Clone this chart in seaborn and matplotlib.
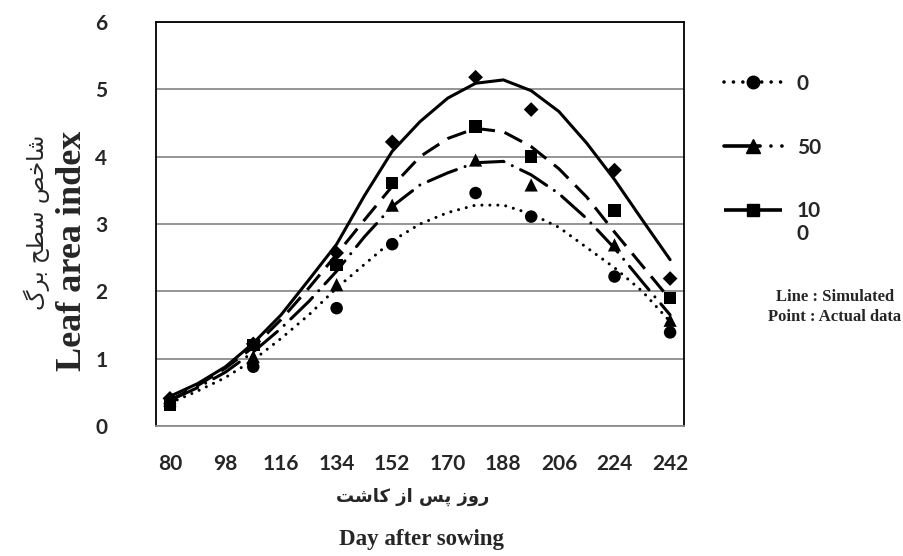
import matplotlib
matplotlib.use('Agg')

import numpy as np
import pandas as pd
import matplotlib.pyplot as plt
import seaborn as sns
from matplotlib.lines import Line2D

# simulated LAI (lines), one value per category day
days = [80, 89, 98, 107, 116, 125, 134, 143, 152, 161, 170, 179, 188, 197, 206, 215, 224, 233, 242]
sim_0 = [0.34, 0.52, 0.72, 0.98, 1.30, 1.65, 2.05, 2.40, 2.75, 3.00, 3.17, 3.28, 3.28, 3.15, 2.95, 2.65, 2.35, 2.00, 1.55]
sim_50 = [0.38, 0.57, 0.80, 1.10, 1.45, 1.85, 2.30, 2.81, 3.26, 3.58, 3.76, 3.91, 3.93, 3.73, 3.45, 3.08, 2.64, 2.14, 1.65]
sim_100 = [0.38, 0.60, 0.86, 1.17, 1.58, 2.05, 2.55, 3.06, 3.56, 4.00, 4.27, 4.42, 4.37, 4.15, 3.82, 3.40, 2.88, 2.38, 1.88]
sim_150 = [0.44, 0.63, 0.88, 1.23, 1.65, 2.17, 2.70, 3.42, 4.08, 4.52, 4.87, 5.09, 5.14, 4.98, 4.67, 4.20, 3.66, 3.06, 2.47]

# measured LAI (points)
obs_days = [80, 107, 134, 152, 179, 197, 224, 242]
obs_0 = [0.33, 0.88, 1.75, 2.70, 3.46, 3.11, 2.22, 1.39]
obs_50 = [0.38, 1.03, 2.10, 3.28, 3.95, 3.58, 2.69, 1.57]
obs_100 = [0.31, 1.20, 2.39, 3.61, 4.45, 4.00, 3.20, 1.90]
obs_150 = [0.41, 1.22, 2.57, 4.22, 5.18, 4.70, 3.80, 2.19]

tick_days = [80, 98, 116, 134, 152, 170, 188, 206, 224, 242]
legend_labels = ['0', '50', '10\n0']

ylabel_fa = 'شاخص سطح برگ'
xlabel_fa = 'روز پس از کاشت'


# matplotlib has no arabic shaping -> pick presentation forms by hand, then reverse
DUAL = {
    'ب': (0xFE8F, 0xFE90, 0xFE91, 0xFE92), 'ت': (0xFE95, 0xFE96, 0xFE97, 0xFE98),
    'ح': (0xFEA1, 0xFEA2, 0xFEA3, 0xFEA4), 'خ': (0xFEA5, 0xFEA6, 0xFEA7, 0xFEA8),
    'س': (0xFEB1, 0xFEB2, 0xFEB3, 0xFEB4), 'ش': (0xFEB5, 0xFEB6, 0xFEB7, 0xFEB8),
    'ص': (0xFEB9, 0xFEBA, 0xFEBB, 0xFEBC), 'ط': (0xFEC1, 0xFEC2, 0xFEC3, 0xFEC4),
    'پ': (0xFB56, 0xFB57, 0xFB58, 0xFB59), 'ک': (0xFB8E, 0xFB8F, 0xFB90, 0xFB91),
    'گ': (0xFB92, 0xFB93, 0xFB94, 0xFB95),
}
RIGHT = {'ا': (0xFE8D, 0xFE8E), 'ر': (0xFEAD, 0xFEAE), 'ز': (0xFEAF, 0xFEB0), 'و': (0xFEED, 0xFEEE)}


def shape(text):
    forms = {**DUAL, **RIGHT}
    out = []
    for i, ch in enumerate(text):
        if ch not in forms:
            out.append(ch)
            continue
        prev = text[i - 1] if i > 0 else ' '
        nxt = text[i + 1] if i + 1 < len(text) else ' '
        jp = prev in DUAL
        jn = ch in DUAL and nxt in forms
        f = forms[ch]
        if jp and jn:
            c = f[3]
        elif jp:
            c = f[1]
        elif jn:
            c = f[2]
        else:
            c = f[0]
        out.append(chr(c))
    return ''.join(reversed(out))


sim = pd.DataFrame({'day': days, '0': sim_0, '50': sim_50, '100': sim_100, '150': sim_150})
obs = pd.DataFrame({'day': obs_days, '0': obs_0, '50': obs_50, '100': obs_100, '150': obs_150})

sns.set_style('white')

dotted = (0, (0.01, 2.6))
dashdot = (0, (10, 3, 0.01, 3))
dashed = (0, (6.5, 3.2))

styles = {
    '0': dict(ls=dotted, marker='o', ms=9, cap='round'),
    '50': dict(ls=dashdot, marker='^', ms=9.5, cap='round'),
    '100': dict(ls=dashed, marker='s', ms=9, cap='butt'),
    '150': dict(ls='-', marker='D', ms=7.5, cap='butt'),
}

fig = plt.figure(figsize=(9.04, 5.56), dpi=100)
ax = fig.add_axes([156 / 904, 1 - 426 / 556, 528 / 904, 404 / 556])

for key, st in styles.items():
    sns.lineplot(data=sim, x='day', y=key, ax=ax, color='black', linewidth=2.2,
                 linestyle=st['ls'], dash_capstyle=st['cap'])
    sns.scatterplot(data=obs, x='day', y=key, ax=ax, color='black', marker=st['marker'],
                    s=st['ms'] ** 2, edgecolor='none', zorder=5)

ax.set_xlim(75.5, 246.5)
ax.set_ylim(0, 6)
ax.set_xticks(tick_days)
ax.set_xticks(np.arange(75.5, 247, 9), minor=True)
ax.set_yticks(range(7))
ax.yaxis.grid(True, color='#8c8c8c', linewidth=1.3)
ax.set_axisbelow(True)
ax.set_xlabel('')
ax.set_ylabel('')

ax.tick_params(axis='x', which='major', length=0, pad=20)
ax.tick_params(axis='x', which='minor', length=6, width=1, color='#8c8c8c', direction='out')
ax.tick_params(axis='y', length=0, pad=35)
for lab in ax.get_xticklabels() + ax.get_yticklabels():
    lab.set_fontfamily('Lato')
    lab.set_fontweight('bold')
    lab.set_fontsize(15)

for side in ['left', 'top', 'right']:
    ax.spines[side].set_color('black')
    ax.spines[side].set_linewidth(1.3)
ax.spines['bottom'].set_color('#8c8c8c')
ax.spines['bottom'].set_linewidth(1.3)

# legend (the 4th series does not appear in the original legend)
handles = []
for key in ['0', '50', '100']:
    st = styles[key]
    handles.append(Line2D([], [], color='black', linewidth=2.6, linestyle=st['ls'],
                          dash_capstyle=st['cap'], marker=st['marker'], markersize=st['ms']))
leg = fig.legend(handles, legend_labels, loc='upper left', bbox_to_anchor=(705 / 904, 1 - 55 / 556),
                 frameon=False, handlelength=2.8, handletextpad=0.7, labelspacing=2.1,
                 prop={'family': 'Lato', 'weight': 'bold', 'size': 15})
# the wrapped "10 / 0" label: keep its sample on the first text line
h = leg.legend_handles[2]
h.set_ydata(np.asarray(h.get_ydata()) + 10)

fig.text(835 / 904, 1 - 307 / 556, 'Line : Simulated\nPoint : Actual data', ha='center', va='center',
         family='Liberation Serif', weight='bold', fontsize=12, linespacing=1.3)

fig.text(73 / 904, 1 - 251 / 556, 'Leaf area index', rotation=90, ha='center', va='center',
         family='Liberation Serif', weight='bold', fontsize=26)
fig.text(37 / 904, 1 - 222 / 556, shape(ylabel_fa), rotation=90, ha='center', va='center',
         family='DejaVu Sans', fontsize=16.5)
fig.text(413 / 904, 1 - 497 / 556, shape(xlabel_fa), ha='center', va='center',
         family='DejaVu Sans', weight='bold', fontsize=13)
fig.text(422 / 904, 1 - 540 / 556, 'Day after sowing', ha='center', va='center',
         family='Liberation Serif', weight='bold', fontsize=16.5)

fig.savefig('out.png', dpi=100)
